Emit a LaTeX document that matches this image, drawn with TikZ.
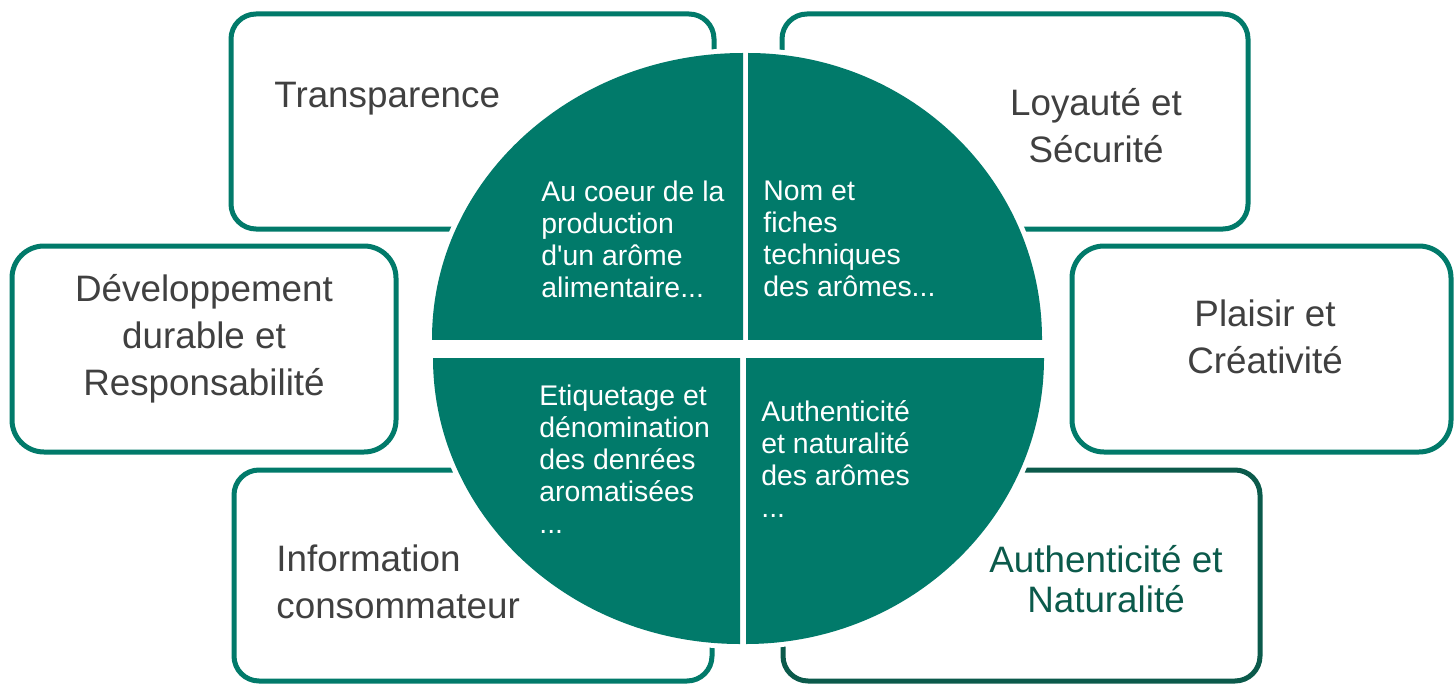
\documentclass[tikz,border=0pt]{standalone}
\usepackage{fontspec}
\setmainfont{Liberation Sans}
\definecolor{tealA}{HTML}{017A6A}
\definecolor{tealD}{HTML}{0B5A4B}
\definecolor{greyT}{HTML}{404040}
\tikzset{
  box/.style={draw=tealA, line width=2.5pt, fill=white, rounded corners=12.5pt, inner sep=0pt},
  boxbig/.style={box, rounded corners=16pt},
  outertxt/.style={text=greyT, font=\fontsize{18.4pt}{23.5pt}\selectfont, inner sep=0pt},
  innertxt/.style={text=white, font=\fontsize{14.2pt}{16pt}\selectfont, inner sep=0pt, align=left, anchor=west},
}
\begin{document}
\begin{tikzpicture}[x=0.5pt, y=-0.5pt]
\useasboundingbox (0,0) rectangle (1454,684);
% outer boxes
\node[box, minimum width=241.5pt, minimum height=107.5pt] (bT) at (472.5,121.5) {};
\node[box, minimum width=233pt, minimum height=107.5pt] (bL) at (1015,121.5) {};
\node[boxbig, minimum width=192pt, minimum height=103pt] (bD) at (204,349) {};
\node[boxbig, minimum width=189.5pt, minimum height=103pt] (bP) at (1261.5,349) {};
\node[box, minimum width=239pt, minimum height=105.5pt] (bI) at (473,575.5) {};
\node[box, draw=tealD, minimum width=238.5pt, minimum height=105.5pt] (bA) at (1021.5,575.5) {};
% halo + quadrants
\begin{scope}
  \clip (743,339) rectangle (400,30);
  \fill[white] (743,339) ellipse [x radius=158pt, y radius=145.5pt];
\end{scope}
\begin{scope}
  \clip (748,339) rectangle (1080,30);
  \fill[white] (748,339) ellipse [x radius=149.5pt, y radius=145.5pt];
\end{scope}
\begin{scope}
  \clip (740,358) rectangle (400,680);
  \fill[white] (740,358) ellipse [x radius=156pt, y radius=145.5pt];
\end{scope}
\begin{scope}
  \clip (746,358) rectangle (1080,680);
  \fill[white] (746,358) ellipse [x radius=151.5pt, y radius=145.5pt];
\end{scope}
\begin{scope}
  \clip (743,339) rectangle (400,30);
  \fill[tealA] (743,339) ellipse [x radius=155.5pt, y radius=143pt];
\end{scope}
\begin{scope}
  \clip (748,339) rectangle (1080,30);
  \fill[tealA] (748,339) ellipse [x radius=147pt, y radius=143pt];
\end{scope}
\begin{scope}
  \clip (740,358) rectangle (400,680);
  \fill[tealA] (740,358) ellipse [x radius=153.5pt, y radius=143pt];
\end{scope}
\begin{scope}
  \clip (746,358) rectangle (1080,680);
  \fill[tealA] (746,358) ellipse [x radius=149pt, y radius=143pt];
\end{scope}
% outer texts
\node[outertxt, anchor=west] (tT) at (274,99) {Transparence};
\node[outertxt, align=center] (tL) at (1096,126) {Loyauté et\\Sécurité};
\node[outertxt, align=center] (tD) at (204,339) {Développement\\durable et\\Responsabilité};
\node[outertxt, align=center] (tP) at (1265,337) {Plaisir et\\Créativité};
\node[outertxt, align=left, anchor=west] (tI) at (276,582) {Information\\consommateur};
\node[outertxt, align=center, text=tealD, font=\fontsize{18.4pt}{20pt}\selectfont] (tA) at (1106,579) {Authenticité et\\Naturalité};
% inner texts
\node[innertxt] (q1) at (541,239) {Au coeur de la\\production\\d\textquotesingle un arôme\\alimentaire...};
\node[innertxt] (q2) at (763,239) {Nom et\\fiches\\techniques\\des arômes...};
\node[innertxt] (q3) at (539,459) {Etiquetage et\\dénomination\\des denrées\\aromatisées\\...};
\node[innertxt] (q4) at (761,459) {Authenticité\\et naturalité\\des arômes\\...};
\end{tikzpicture}
\end{document}
